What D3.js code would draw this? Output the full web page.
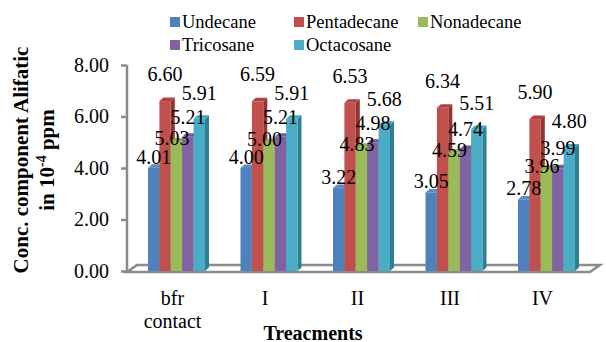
<!DOCTYPE html>
<html>
<head>
<meta charset="utf-8">
<script src="https://cdn.jsdelivr.net/npm/d3@7/dist/d3.min.js"></script>
<style>
  html, body { margin: 0; padding: 0; background: #fff; }
  svg { display: block; }
  svg text { font-family: "Times New Roman", "Liberation Serif", "DejaVu Serif", serif; fill: #000; }
</style>
</head>
<body>
<svg id="chart" width="606" height="342"></svg>
<script>
// Treatments along the x axis
const categories = ["bfr contact", "I", "II", "III", "IV"];
// Aliphatic compounds (series)
const seriesNames = ["Undecane", "Pentadecane", "Nonadecane", "Tricosane", "Octacosane"];
// Concentrations in 10^-4 ppm, one array per compound, ordered like categories
const undecane    = [4.01, 4.00, 3.22, 3.05, 2.78];
const pentadecane = [6.60, 6.59, 6.53, 6.34, 5.90];
const nonadecane  = [5.03, 5.00, 4.83, 4.59, 3.96];
const tricosane   = [5.21, 5.21, 4.98, 4.74, 3.99];
const octacosane  = [5.91, 5.91, 5.68, 5.51, 4.80];
const yTicks = [0, 2, 4, 6, 8];

const seriesValues = [undecane, pentadecane, nonadecane, tricosane, octacosane];

const serif = "'Times New Roman', 'Liberation Serif', 'DejaVu Serif', serif";

// Fill colours: front, top and side faces of each 3-D column
const fronts = ["#4F81BD", "#C0504D", "#9BBB59", "#8064A2", "#4BACC6"];
const tops   = ["#5b8cc7", "#b2413e", "#8eae4c", "#735796", "#45a3bc"];
const sides  = ["#3a6496", "#8f3532", "#718c3e", "#5c4778", "#2f7f94"];
// Label nudges per series (dx, dy) so the 3-D labels sit as Excel placed them
const labelDx = [0, 0, -4.5, 0, 0];
const labelDy = [-4, -20, 4, -13, -19];

const svg = d3.select("#chart");
const axisGrey = "#8a8a8a";

const x0 = d3.scaleBand().domain(categories).range([130.25, 592.75]).paddingInner(0).paddingOuter(0);
const x1 = d3.scaleBand().domain(seriesNames).range([17.75, x0.bandwidth() - 17.75]).padding(0);
const y = d3.scaleLinear().domain([0, 8]).range([271, 65]);

// Floor of the 3-D plot
const floorPts = [[127, 272], [590, 272], [600, 265], [137, 265]];
svg.append("polygon")
  .attr("points", floorPts.map(p => p.join(",")).join(" "))
  .attr("fill", "#fff")
  .attr("stroke", axisGrey)
  .attr("stroke-width", 2.5)
  .attr("stroke-linejoin", "miter");

// Value axis
const yAxis = d3.axisLeft(y).tickValues(yTicks).tickFormat(d3.format(".2f")).tickSize(6).tickPadding(12);
const gy = svg.append("g").attr("transform", "translate(127,0)").call(yAxis)
  .attr("font-family", serif).attr("font-size", 20);
gy.select(".domain").attr("stroke", axisGrey).attr("stroke-width", 2.5).attr("d", `M0,${y(8)}V${y(0) + 1}`);
gy.selectAll(".tick line").attr("stroke", axisGrey).attr("stroke-width", 2.5);
gy.selectAll(".tick text")
  .attr("font-family", serif)
  .attr("font-size", 20)
  .attr("fill", "#000");

// 3-D columns
const depthX = 4, depthY = 3.5;
const bars = svg.append("g");
categories.forEach((cat, ci) => {
  seriesNames.forEach((s, si) => {
    const v = seriesValues[si][ci];
    const bx = x0(cat) + x1(s);
    const w = x1.bandwidth();
    const top = y(v), bot = y(0);
    const g = bars.append("g");
    // right side
    g.append("polygon")
      .attr("points", [[bx + w, top], [bx + w + depthX, top - depthY], [bx + w + depthX, bot - depthY], [bx + w, bot]].map(p => p.join(",")).join(" "))
      .attr("fill", sides[si]);
    // top
    g.append("polygon")
      .attr("points", [[bx, top], [bx + depthX, top - depthY], [bx + w + depthX, top - depthY], [bx + w, top]].map(p => p.join(",")).join(" "))
      .attr("fill", tops[si]);
    // front
    g.append("rect")
      .attr("x", bx).attr("y", top)
      .attr("width", w).attr("height", bot - top)
      .attr("fill", fronts[si]);
  });
});

// Data labels
const labels = svg.append("g").attr("font-family", serif).attr("font-size", 20);
categories.forEach((cat, ci) => {
  seriesNames.forEach((s, si) => {
    const v = seriesValues[si][ci];
    labels.append("text")
      .attr("x", x0(cat) + x1(s) + x1.bandwidth() / 2 + labelDx[si])
      .attr("y", y(v) + labelDy[si])
      .attr("text-anchor", "middle")
      .attr("font-family", serif)
      .attr("font-size", 20)
      .text(d3.format(".2f")(v));
  });
});

// Category labels
const catG = svg.append("g");
categories.forEach(cat => {
  const cx = x0(cat) + x0.bandwidth() / 2 - 4;
  const words = cat === "bfr contact" ? ["bfr", "contact"] : [cat];
  words.forEach((wd, i) => {
    catG.append("text")
      .attr("x", cx).attr("y", 305 + i * 23)
      .attr("text-anchor", "middle")
      .attr("font-family", serif)
      .attr("font-size", 20)
      .text(wd);
  });
});

// X axis title
svg.append("text")
  .attr("x", 313).attr("y", 340)
  .attr("text-anchor", "middle")
  .attr("font-family", serif)
  .attr("font-size", 20).attr("font-weight", "bold")
  .text("Treacments");

// Y axis title (two lines)
const yt = svg.append("g").attr("transform", "translate(0,160) rotate(-90)");
yt.append("text")
  .attr("x", 0).attr("y", 28)
  .attr("text-anchor", "middle")
  .attr("font-family", serif)
  .attr("font-size", 21).attr("font-weight", "bold")
  .text("Conc. component Alifatic");
const line2 = yt.append("text")
  .attr("x", 0).attr("y", 54)
  .attr("text-anchor", "middle")
  .attr("font-family", serif)
  .attr("font-size", 21).attr("font-weight", "bold");
line2.append("tspan").text("in 10");
line2.append("tspan").attr("dy", -8).attr("font-size", 14).text("-4");
line2.append("tspan").attr("dy", 8).text(" ppm");

// Legend
const legendCols = [170, 294, 418];
const legendRows = [17, 40];
seriesNames.forEach((s, i) => {
  const lx = legendCols[i % 3], ly = legendRows[Math.floor(i / 3)];
  svg.append("rect").attr("x", lx).attr("y", ly).attr("width", 10).attr("height", 10).attr("fill", fronts[i]);
  svg.append("text")
    .attr("x", lx + 12).attr("y", ly + 11)
    .attr("font-family", serif)
    .attr("font-size", 18.5)
    .text(s);
});
</script>
</body>
</html>
